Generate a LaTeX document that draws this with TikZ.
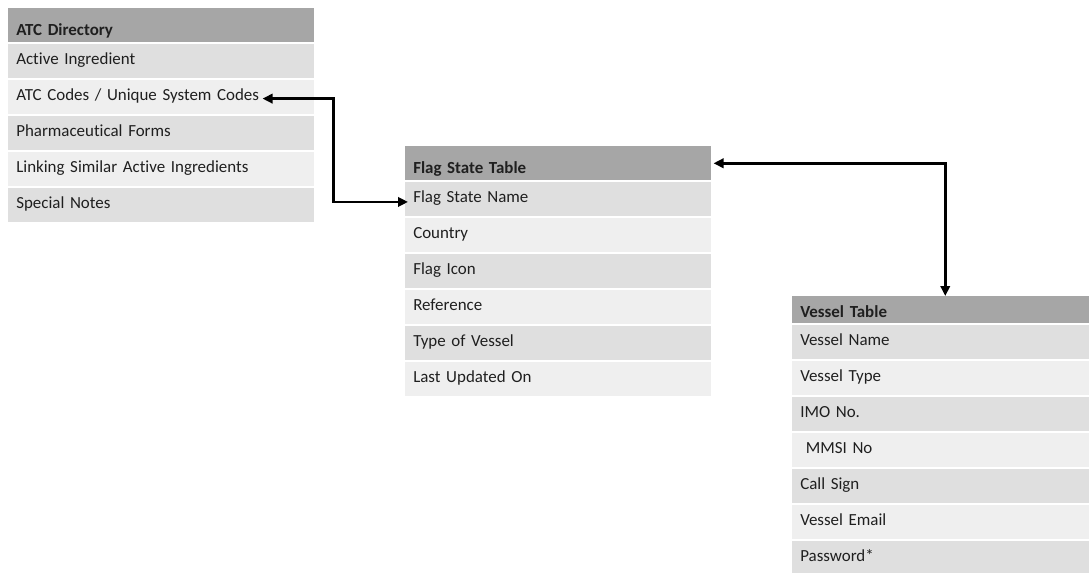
\documentclass[tikz,border=0pt]{standalone}
\usepackage{fontspec}
\setmainfont{Carlito}[Ligatures=NoCommon, WordSpace=0.8]
\usetikzlibrary{positioning,arrows.meta}
\definecolor{hdrgray}{HTML}{A6A6A6}
\definecolor{banddark}{HTML}{DFDFDF}
\definecolor{bandlight}{HTML}{EFEFEF}
\definecolor{ink}{HTML}{1F1F1F}
\tikzset{
  cell/.style={anchor=north west, inner xsep=6pt, inner ysep=0pt, text width=217.5pt,
    align=left, text height=15pt, text depth=10.5pt, text=ink},
  hdr/.style={cell, fill=hdrgray, font=\fontsize{12.7}{15}\selectfont\bfseries,
    text height=20.25pt, text depth=5.25pt},
  band1/.style={cell, fill=banddark},
  band0/.style={cell, fill=bandlight},
  link/.style={<->, line width=2pt}
}
\begin{document}
\begin{tikzpicture}
[x=0.75pt, y=-0.75pt, font=\fontsize{12.7}{15}\selectfont, >={Triangle[length=7.5pt,width=7pt]}]
\useasboundingbox (0,0) rectangle (1089,572);
% ATC directory
\node[hdr] (atc0) at (8,8) {ATC Directory};
\foreach \t [count=\i] in {Active Ingredient, ATC Codes / Unique System Codes,
  Pharmaceutical Forms, Linking Similar Active Ingredients, Special Notes}{
  \pgfmathtruncatemacro\j{\i-1}
  \pgfmathtruncatemacro\p{mod(\i,2)}
  \node[band\p, below=1.1pt of atc\j] (atc\i) {\t};
}
% flag state table
\node[hdr] (fs0) at (405,146) {Flag State Table};
\foreach \t [count=\i] in {Flag State Name, Country, Flag Icon, Reference,
  Type of Vessel, Last Updated On}{
  \pgfmathtruncatemacro\j{\i-1}
  \pgfmathtruncatemacro\p{mod(\i,2)}
  \node[band\p, below=1.1pt of fs\j] (fs\i) {\t};
}
% vessel table
\node[hdr, text height=15.75pt, text depth=4.5pt] (vt0) at (792,296) {Vessel Table};
\foreach \t [count=\i] in {Vessel Name, Vessel Type, IMO No., \ MMSI No, Call Sign,
  Vessel Email, Password*}{
  \pgfmathtruncatemacro\j{\i-1}
  \pgfmathtruncatemacro\p{mod(\i,2)}
  \node[band\p, below=1.1pt of vt\j] (vt\i) {\t};
}
% links
\coordinate (codestip) at ([xshift=-39pt,yshift=-1pt]atc2.east);
\coordinate (fstip) at ([xshift=2.25pt,yshift=-2pt]fs1.west);
\draw[link] (codestip) -- ++(71,0) |- (fstip);
\draw[link] ([xshift=1.5pt]fs0.east) -| (vt0.north);
\end{tikzpicture}
\end{document}
